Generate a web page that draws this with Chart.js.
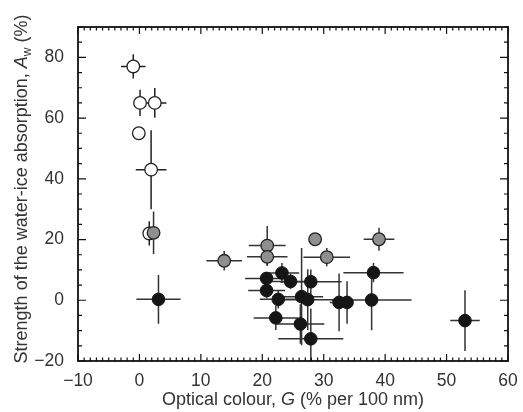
<!DOCTYPE html>
<html>
<head>
<meta charset="utf-8">
<script src="https://cdn.jsdelivr.net/npm/chart.js@4.4.0/dist/chart.umd.min.js"></script>
<style>
  html, body { margin: 0; padding: 0; background: #fff; }
  #wrap { width: 523px; height: 412px; }
</style>
</head>
<body>
<div id="wrap"><canvas id="chart"></canvas></div>
<script>
  // open circles
  const openX    = [-1.0, 0.1, 2.5, -0.1, 1.9, 1.6];
  const openY    = [77, 65, 65, 55, 43, 22];
  const openXErr = [2.0, 0, 1.9, 0, 2.5, 0.5];
  const openYErr = [4.0, 4.3, 4.9, 0, 13, 4];

  // grey circles
  const greyX    = [2.3, 13.8, 20.8, 20.8, 28.6, 30.5, 39.0];
  const greyY    = [22.2, 13.0, 18.0, 14.3, 20.1, 14.2, 20.1];
  const greyXErr = [0.8, 2.9, 3.0, 3.3, 1.0, 3.8, 2.5];
  const greyYErr = [7.0, 3.2, 6.5, 3.0, 0.8, 3.0, 3.8];

  // black circles
  const blackX    = [3.1, 23.2, 20.7, 24.6, 27.9, 20.7, 22.6, 26.4, 27.4, 22.2, 26.2, 27.9, 32.5, 33.8, 37.8, 38.1, 53.0];
  const blackY    = [0.3, 9.0, 7.2, 6.2, 6.1, 3.2, 0.3, 1.2, 0.2, -5.8, -7.8, -12.7, -0.7, -0.7, 0.1, 9.1, -6.7];
  const blackXErr = [3.6, 2.8, 3.5, 3.5, 5.0, 3.0, 3.0, 3.5, 4.5, 3.6, 3.9, 5.3, 1.5, 0.8, 6.5, 4.9, 2.4];
  const blackYErr = [8.0, 3.3, 2.0, 2.5, 4.0, 2.5, 3.0, 16, 10, 4.0, 6.5, 10, 9.5, 7.0, 10, 3.2, 10];

  const xTicks = [-10, 0, 10, 20, 30, 40, 50, 60];
  const yTicks = [-20, 0, 20, 40, 60, 80];

  const FONT = "'Liberation Sans', Arial, sans-serif";

  function pts(xs, ys) {
    return xs.map((v, i) => ({ x: v, y: ys[i] }));
  }

  const errorBars = {
    id: 'errorBars',
    beforeDatasetsDraw(chart) {
      const { ctx, chartArea: a, scales: { x, y } } = chart;
      ctx.save();
      ctx.beginPath();
      ctx.rect(a.left, a.top, a.right - a.left, a.bottom - a.top);
      ctx.clip();
      ctx.lineWidth = 1.5;
      chart.data.datasets.forEach(ds => {
        ctx.strokeStyle = ds.barColor;
        ds.data.forEach((p, i) => {
          const px = x.getPixelForValue(p.x), py = y.getPixelForValue(p.y);
          const xe = ds.xErr[i], ye = ds.yErr[i];
          ctx.beginPath();
          if (xe) {
            ctx.moveTo(x.getPixelForValue(p.x - xe), py);
            ctx.lineTo(x.getPixelForValue(p.x + xe), py);
          }
          if (ye) {
            ctx.moveTo(px, y.getPixelForValue(p.y - ye));
            ctx.lineTo(px, y.getPixelForValue(p.y + ye));
          }
          ctx.stroke();
        });
      });
      ctx.restore();
    }
  };

  // frame with inward ticks on all four sides, plus axis titles
  const frame = {
    id: 'frame',
    afterDraw(chart) {
      const { ctx, chartArea: a, scales: { x, y } } = chart;
      ctx.save();
      ctx.strokeStyle = '#111';
      ctx.lineWidth = 1.2;
      ctx.beginPath();
      for (let v = -10; v <= 60; v += 1) {
        const px = x.getPixelForValue(v);
        const len = v % 10 === 0 ? 7 : 3.5;
        ctx.moveTo(px, a.bottom); ctx.lineTo(px, a.bottom - len);
        ctx.moveTo(px, a.top); ctx.lineTo(px, a.top + len);
      }
      for (let v = -20; v <= 90; v += 5) {
        const py = y.getPixelForValue(v);
        const len = v % 20 === 0 ? 8 : 4;
        ctx.moveTo(a.left, py); ctx.lineTo(a.left + len, py);
        ctx.moveTo(a.right, py); ctx.lineTo(a.right - len, py);
      }
      ctx.stroke();
      ctx.lineWidth = 1.8;
      ctx.strokeRect(a.left, a.top, a.right - a.left, a.bottom - a.top);

      ctx.fillStyle = '#333';
      ctx.textBaseline = 'alphabetic';
      // x title
      const parts = [
        ['Optical colour, ', 'normal 18px'],
        ['G', 'italic 18px'],
        [' (% per 100 nm)', 'normal 18px']
      ];
      let total = 0;
      parts.forEach(p => { ctx.font = p[1] + ' ' + FONT; total += ctx.measureText(p[0]).width; });
      let cx = (a.left + a.right) / 2 - total / 2;
      parts.forEach(p => {
        ctx.font = p[1] + ' ' + FONT;
        ctx.fillText(p[0], cx, 405);
        cx += ctx.measureText(p[0]).width;
      });

      // y title
      ctx.translate(27, (a.top + a.bottom) / 2 - 5);
      ctx.rotate(-Math.PI / 2);
      const yparts = [
        ['Strength of the water-ice absorption, ', 'normal 18px', 0],
        ['A', 'italic 18px', 0],
        ['w', 'normal 12px', 4],
        [' (%)', 'normal 18px', 0]
      ];
      total = 0;
      yparts.forEach(p => { ctx.font = p[1] + ' ' + FONT; total += ctx.measureText(p[0]).width; });
      cx = -total / 2;
      yparts.forEach(p => {
        ctx.font = p[1] + ' ' + FONT;
        ctx.fillText(p[0], cx, p[2]);
        cx += ctx.measureText(p[0]).width;
      });
      ctx.restore();
    }
  };

  new Chart(document.getElementById('chart'), {
    type: 'scatter',
    data: {
      datasets: [
        {
          data: pts(blackX, blackY), xErr: blackXErr, yErr: blackYErr, barColor: '#333',
          backgroundColor: '#151515', borderColor: '#151515', borderWidth: 1, pointRadius: 6.3, order: 1
        },
        {
          data: pts(greyX, greyY), xErr: greyXErr, yErr: greyYErr, barColor: '#333',
          backgroundColor: '#8f8f8f', borderColor: '#222', borderWidth: 1.3, pointRadius: 6.3, order: 2
        },
        {
          data: pts(openX, openY), xErr: openXErr, yErr: openYErr, barColor: '#222',
          backgroundColor: '#fff', borderColor: '#222', borderWidth: 1.3, pointRadius: 6.3, order: 3
        }
      ]
    },
    options: {
      responsive: true,
      maintainAspectRatio: false,
      animation: false,
      layout: { padding: { top: 27, right: 15, left: 0, bottom: 0 } },
      plugins: { legend: { display: false }, tooltip: { enabled: false } },
      scales: {
        x: {
          type: 'linear', min: -10, max: 60,
          afterBuildTicks: s => { s.ticks = xTicks.map(v => ({ value: v })); },
          afterFit: s => { s.height = 51; },
          grid: { display: false },
          border: { display: false },
          ticks: {
            padding: 2, color: '#333', font: { family: FONT, size: 17.5 },
            callback: v => String(v).replace('-', '\u2212')
          }
        },
        y: {
          type: 'linear', min: -20, max: 90,
          afterBuildTicks: s => { s.ticks = yTicks.map(v => ({ value: v })); },
          afterFit: s => { s.width = 78; },
          grid: { display: false },
          border: { display: false },
          ticks: {
            padding: 6, color: '#333', font: { family: FONT, size: 17.5 },
            callback: v => String(v).replace('-', '\u2212')
          }
        }
      }
    },
    plugins: [errorBars, frame]
  });
</script>
</body>
</html>
